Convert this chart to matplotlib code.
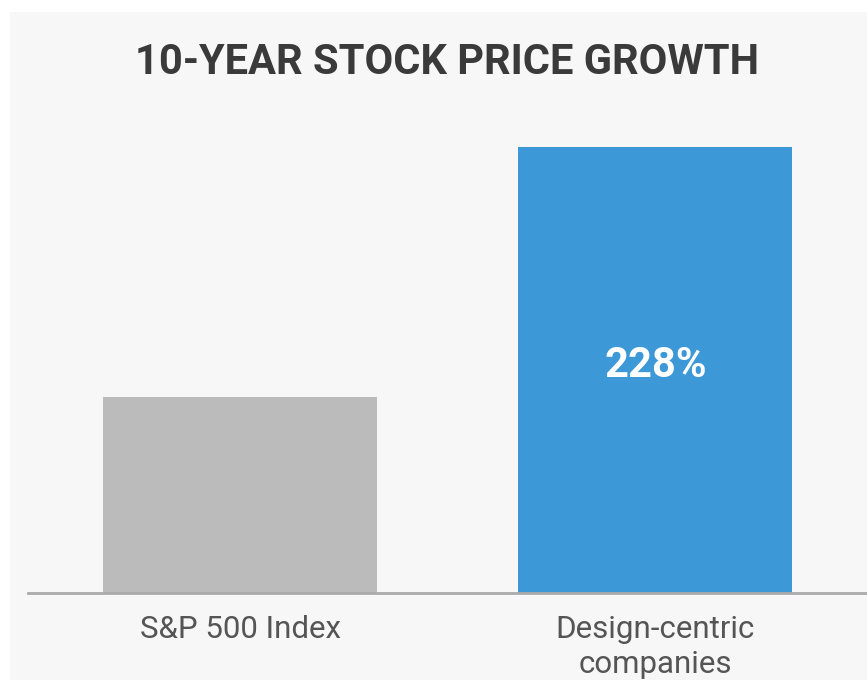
import matplotlib
matplotlib.use("Agg")
import matplotlib.pyplot as plt
from matplotlib.patches import Rectangle

categories = ["S&P 500 Index", "Design-centric\ncompanies"]
values = [100, 228]
bar_colors = ["#bbbbbb", "#3d98d8"]
value_labels = ["", "228%"]
title = "10-YEAR STOCK PRICE GROWTH"

W, H = 867, 680
fig = plt.figure(figsize=(W / 100, H / 100), dpi=100, facecolor="white")
# light background panel
bg = Rectangle((10 / W, 0), 1 - 10 / W, 1 - 12 / H, transform=fig.transFigure,
               facecolor="#f7f7f7", edgecolor="none", zorder=-10)
fig.patches.append(bg)

ax = fig.add_axes([28 / W, (H - 593) / H, 1 - 28 / W, (593 - 147) / H])
ax.set_zorder(5)
ax.set_facecolor("none")
x = list(range(len(categories)))
ax.bar(x, values, width=0.66, color=bar_colors, zorder=2)
ax.set_xlim(-0.511, 1.5096)
ax.set_ylim(0, 228)

for xi, v, lab in zip(x, values, value_labels):
    if lab:
        ax.text(xi, v * 0.51, lab, ha="center", va="center", color="white",
                fontsize=30, fontweight="bold", family=["Roboto", "DejaVu Sans"], zorder=3)

for s in ["top", "right", "left"]:
    ax.spines[s].set_visible(False)
ax.spines["bottom"].set_color("#aaaaaa")
ax.spines["bottom"].set_linewidth(2)
ax.set_yticks([])
ax.set_xticks(x)
ax.set_xticklabels(categories, fontsize=22.5, color="#555555", family=["Roboto", "DejaVu Sans"],
                   linespacing=1.25)
ax.tick_params(axis="x", length=0, pad=16)

fig.text(447 / W, 1 - 63 / H, title, ha="center", va="center", fontsize=30, fontweight="bold",
         color="#3a3a3a", family=["Roboto", "DejaVu Sans"], zorder=6)

fig.savefig("out.png", dpi=100, facecolor="white")
